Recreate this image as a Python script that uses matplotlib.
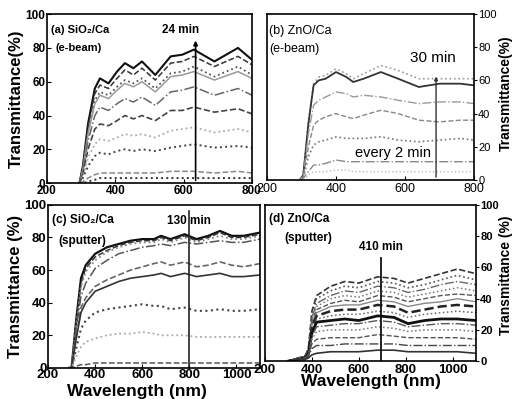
import numpy as np
import matplotlib
matplotlib.use('Agg')
from matplotlib import pyplot as plt

BOLD = ['Liberation Sans', 'DejaVu Sans']
NARROW = ['Liberation Sans Narrow', 'Liberation Sans', 'DejaVu Sans']

# (a) SiO2/Ca e-beam
wl_a = [295, 305, 320, 340, 355, 380, 405, 428, 453, 478, 517, 562, 596, 630, 690, 759, 800]
t_a = [
    [0, 10, 35, 56, 62, 59, 66, 71, 68, 72, 64, 75, 76, 79, 72, 80, 73],
    [0, 9, 33, 53, 58, 56, 62, 67, 64, 68, 61, 71, 72, 75, 69, 75, 70],
    [0, 8, 30, 49, 54, 52, 57, 61, 59, 62, 56, 65, 66, 69, 63, 69, 64],
    [0, 8, 29, 47, 52, 50, 55, 59, 57, 60, 54, 63, 64, 66, 61, 66, 62],
    [0, 6, 25, 40, 45, 43, 47, 50, 48, 51, 46, 54, 55, 57, 52, 56, 52],
    [0, 5, 20, 32, 35, 34, 37, 40, 38, 40, 37, 43, 43, 45, 42, 44, 41],
    [0, 4, 15, 23, 26, 25, 27, 29, 28, 29, 27, 31, 32, 33, 30, 32, 30],
    [0, 3, 10, 16, 18, 17, 19, 20, 19, 20, 19, 21, 22, 23, 21, 22, 21],
    [0, 1, 3, 5, 6, 6, 6, 6, 6, 6, 6, 7, 7, 7, 6, 7, 6],
    [0, 0, 1, 2, 3, 3, 3, 3, 3, 3, 3, 3, 3, 3, 3, 3, 3],
]

# (b) ZnO/Ca e-beam
wl_b = [295, 305, 320, 335, 350, 370, 400, 430, 450, 480, 530, 580, 640, 700, 760, 800]
t_b = [
    [0, 3, 35, 58, 62, 63, 67, 64, 61, 64, 69, 66, 61, 61, 61, 61],
    [0, 3, 34, 57, 60, 61, 65, 62, 59, 61, 65, 61, 56, 58, 58, 57],
    [0, 2, 28, 45, 48, 50, 53, 52, 50, 51, 50, 48, 46, 47, 47, 46],
    [0, 2, 20, 33, 36, 38, 40, 38, 37, 39, 42, 40, 36, 35, 36, 36],
    [0, 1, 14, 21, 23, 24, 26, 25, 25, 25, 26, 24, 23, 24, 25, 24],
    [0, 1, 5, 9, 9, 10, 12, 11, 11, 11, 11, 11, 11, 11, 11, 11],
    [0, 0, 3, 5, 5, 5, 6, 6, 5, 5, 5, 5, 5, 5, 5, 5],
]

# (c) SiO2/Ca sputter
wl_c = [290, 300, 320, 340, 360, 400, 450, 500, 550, 600, 650, 680, 720, 780, 830, 880, 930, 980, 1030, 1100]
t_c = [
    [0, 0, 30, 55, 63, 70, 74, 76, 78, 79, 79, 81, 79, 82, 79, 81, 84, 81, 81, 83],
    [0, 0, 28, 52, 61, 68, 72, 75, 77, 78, 78, 80, 78, 81, 78, 80, 83, 80, 80, 82],
    [0, 0, 27, 50, 59, 66, 71, 74, 76, 77, 77, 79, 77, 80, 77, 79, 81, 79, 79, 81],
    [0, 0, 24, 44, 52, 61, 66, 70, 72, 74, 75, 76, 75, 77, 76, 77, 78, 77, 77, 79],
    [0, 0, 20, 37, 43, 50, 54, 57, 60, 62, 64, 65, 63, 65, 62, 63, 65, 63, 62, 64],
    [0, 0, 18, 34, 40, 47, 50, 53, 55, 56, 57, 58, 56, 58, 56, 57, 58, 56, 56, 57],
    [0, 0, 12, 24, 29, 34, 36, 37, 38, 39, 38, 38, 36, 37, 35, 35, 36, 35, 35, 36],
    [0, 0, 7, 13, 16, 18, 20, 21, 21, 22, 21, 20, 20, 20, 19, 19, 19, 19, 19, 19],
    [0, 0, 1, 2, 2, 3, 3, 3, 3, 3, 3, 3, 3, 3, 3, 3, 3, 3, 3, 3],
]

# (d) ZnO/Ca sputter
wl_d = [300, 340, 370, 385, 400, 420, 480, 540, 600, 680, 750, 810, 880, 950, 1020, 1100]
t_d = [
    [0, 2, 3, 8, 32, 42, 48, 51, 50, 54, 53, 50, 53, 56, 59, 56],
    [0, 2, 3, 7, 30, 40, 45, 48, 47, 51, 50, 47, 49, 52, 55, 52],
    [0, 2, 3, 7, 28, 37, 42, 45, 44, 48, 47, 44, 46, 49, 51, 49],
    [0, 2, 3, 6, 26, 35, 40, 42, 41, 45, 44, 41, 43, 45, 47, 45],
    [0, 1, 3, 6, 25, 33, 37, 39, 38, 42, 41, 38, 40, 42, 43, 42],
    [0, 1, 2, 6, 23, 31, 35, 36, 36, 39, 38, 35, 37, 38, 40, 38],
    [0, 1, 2, 5, 22, 29, 32, 33, 33, 36, 35, 31, 33, 35, 36, 35],
    [0, 1, 2, 5, 20, 27, 29, 30, 30, 32, 31, 28, 30, 31, 32, 31],
    [0, 1, 2, 5, 18, 25, 26, 27, 26, 29, 28, 24, 26, 27, 27, 26],
    [0, 1, 2, 4, 16, 22, 23, 24, 24, 26, 25, 22, 23, 24, 24, 23],
    [0, 1, 2, 4, 14, 19, 20, 20, 20, 22, 21, 19, 20, 20, 20, 19],
    [0, 1, 2, 3, 11, 14, 15, 15, 15, 17, 16, 15, 15, 15, 15, 14],
    [0, 1, 1, 3, 8, 10, 10, 11, 11, 11, 11, 10, 10, 10, 10, 10],
    [0, 1, 1, 2, 4, 5, 6, 6, 6, 7, 7, 6, 6, 6, 6, 5],
]

styles_a = [('-', '#111111', 1.5), ('--', '#333333', 1.1), (':', '#555555', 1.3),
            ('-', '#999999', 1.1), ('-.', '#666666', 1.1), ('--', '#444444', 1.2),
            (':', '#aaaaaa', 1.3), (':', '#444444', 1.4), ('--', '#888888', 1.1),
            (':', '#333333', 1.4)]
styles_b = [(':', '#999999', 1.2), ('-', '#333333', 1.3), ('-.', '#999999', 1.0),
            ('--', '#888888', 1.0), (':', '#777777', 1.2), ('-.', '#888888', 1.0),
            (':', '#bbbbbb', 1.0)]
styles_c = [('-', '#111111', 1.6), ('--', '#333333', 1.1), (':', '#888888', 1.3),
            ('-.', '#555555', 1.1), ('--', '#666666', 1.2), ('-', '#333333', 1.2),
            (':', '#444444', 1.5), (':', '#aaaaaa', 1.3), ('--', '#555555', 1.1)]
styles_d = [('--', '#333333', 1.2), (':', '#555555', 1.2), ('-.', '#666666', 1.0),
            (':', '#777777', 1.1), ('--', '#555555', 1.0), ('-', '#888888', 1.0),
            ('--', '#222222', 1.8), (':', '#666666', 1.1), ('-', '#111111', 2.0),
            ('-.', '#555555', 1.0), (':', '#777777', 1.1), ('--', '#555555', 1.0),
            ('-.', '#444444', 1.0), ('-', '#333333', 1.2)]

fig = plt.figure(figsize=(5.13, 3.99), dpi=100)
ax_a = fig.add_axes([0.0916, 0.541, 0.3996, 0.4236])
ax_b = fig.add_axes([0.5205, 0.549, 0.4035, 0.416])
ax_c = fig.add_axes([0.0936, 0.078, 0.4133, 0.4085])
ax_d = fig.add_axes([0.5166, 0.095, 0.4113, 0.391])


def draw(ax, wl, curves, styles):
    for vals, (ls, col, lw) in zip(curves, styles):
        ax.plot(wl, vals, linestyle=ls, color=col, linewidth=lw)


draw(ax_a, wl_a, t_a, styles_a)
draw(ax_b, wl_b, t_b, styles_b)
draw(ax_c, wl_c, t_c, styles_c)
draw(ax_d, wl_d, t_d, styles_d)

for ax in (ax_a, ax_b, ax_c, ax_d):
    for s in ax.spines.values():
        s.set_linewidth(1.2)
    ax.set_ylim(0, 100)
    ax.set_yticks([0, 20, 40, 60, 80, 100])


def bold_ticks(ax):
    for lab in ax.get_xticklabels() + ax.get_yticklabels():
        lab.set_family(BOLD)
        lab.set_fontweight('bold')


# (a)
ax_a.set_xlim(200, 800)
ax_a.set_xticks([200, 400, 600, 800])
ax_a.tick_params(direction='in', length=3, pad=1, labelsize=8.5)
bold_ticks(ax_a)
ax_a.set_ylabel('Transmittance(%)', family=BOLD, fontweight='bold', fontsize=12, labelpad=1)
ax_a.annotate('', xy=(635, 86), xytext=(635, 0),
              arrowprops=dict(arrowstyle='-|>', color='black', lw=1.2, mutation_scale=6))
ax_a.text(592, 89, '24 min', family=BOLD, fontweight='bold', fontsize=8.5, ha='center')
ax_a.text(0.02, 0.89, '(a) SiO\u2082/Ca', transform=ax_a.transAxes, family=BOLD,
          fontweight='bold', fontsize=8)
ax_a.text(0.04, 0.78, '(e-beam)', transform=ax_a.transAxes, family=BOLD,
          fontweight='bold', fontsize=8)

# (b)
ax_b.set_xlim(200, 800)
ax_b.set_xticks([200, 400, 600, 800])
ax_b.yaxis.tick_right()
ax_b.yaxis.set_label_position('right')
ax_b.tick_params(axis='y', direction='out', length=2, pad=1, labelsize=8)
ax_b.tick_params(axis='x', direction='in', length=3, pad=2, labelsize=9)
for lab in ax_b.get_xticklabels() + ax_b.get_yticklabels():
    lab.set_family(NARROW)
ax_b.set_ylabel('Transmittance(%)', family=BOLD, fontweight='bold', fontsize=10,
                rotation=90, va='center', ha='center')
ax_b.yaxis.set_label_coords(1.155, 0.52)
ax_b.annotate('', xy=(690, 64), xytext=(690, 0),
              arrowprops=dict(arrowstyle='-|>', color='#333333', lw=1.0, mutation_scale=5))
ax_b.text(680, 71, '30 min', family=NARROW, fontsize=11, ha='center')
ax_b.text(564, 14, 'every 2 min', family=NARROW, fontsize=10.5, ha='center')
ax_b.text(0.01, 0.88, '(b) ZnO/Ca', transform=ax_b.transAxes, family=NARROW, fontsize=9)
ax_b.text(0.01, 0.77, '(e-beam)', transform=ax_b.transAxes, family=NARROW, fontsize=9)

# (c)
ax_c.set_xlim(200, 1100)
ax_c.set_xticks([200, 400, 600, 800, 1000])
ax_c.tick_params(direction='in', length=3, pad=1, labelsize=9.5)
bold_ticks(ax_c)
ax_c.set_ylabel('Transmittance (%)', family=BOLD, fontweight='bold', fontsize=12, labelpad=1)
ax_c.set_xlabel('Wavelength (nm)', family=BOLD, fontweight='bold', fontsize=12.5, labelpad=-2)
ax_c.xaxis.set_label_coords(0.42, -0.1)
ax_c.plot([800, 800], [0, 96], color='#222222', lw=1.2)
ax_c.text(800, 88, '130 min', family=BOLD, fontweight='bold', fontsize=8.5, ha='center')
ax_c.text(0.02, 0.89, '(c) SiO\u2082/Ca', transform=ax_c.transAxes, family=BOLD,
          fontweight='bold', fontsize=8.5)
ax_c.text(0.05, 0.76, '(sputter)', transform=ax_c.transAxes, family=BOLD,
          fontweight='bold', fontsize=8.5)

# (d)
ax_d.set_xlim(200, 1100)
ax_d.set_xticks([200, 400, 600, 800, 1000])
ax_d.yaxis.tick_right()
ax_d.yaxis.set_label_position('right')
ax_d.tick_params(axis='y', direction='out', length=2, pad=1, labelsize=8)
ax_d.tick_params(axis='x', direction='in', length=3, pad=2, labelsize=9.5)
bold_ticks(ax_d)
ax_d.set_ylabel('Transmittance (%)', family=BOLD, fontweight='bold', fontsize=10,
                rotation=90, va='center', ha='center')
ax_d.yaxis.set_label_coords(1.142, 0.55)
ax_d.set_xlabel('Wavelength (nm)', family=BOLD, fontweight='bold', fontsize=12.5, labelpad=-1)
ax_d.plot([695, 695], [0, 66], color='#111111', lw=1.3)
ax_d.text(695, 71, '410 min', family=BOLD, fontweight='bold', fontsize=8.5, ha='center')
ax_d.text(0.02, 0.89, '(d) ZnO/Ca', transform=ax_d.transAxes, family=BOLD,
          fontweight='bold', fontsize=8.5)
ax_d.text(0.09, 0.77, '(sputter)', transform=ax_d.transAxes, family=BOLD,
          fontweight='bold', fontsize=8.5)

fig.savefig('out.png', dpi=100)
